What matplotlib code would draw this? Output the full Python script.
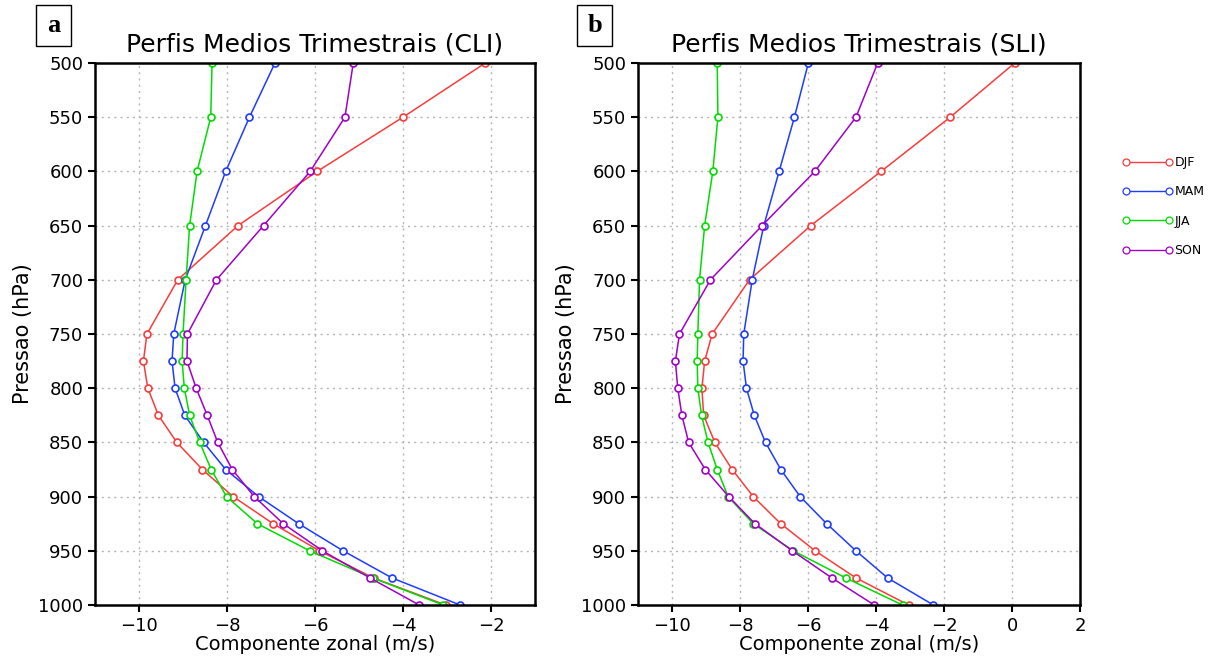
import matplotlib
matplotlib.use("Agg")
import matplotlib.pyplot as plt
from matplotlib.patches import Rectangle

# pressure levels (hPa)
levels = [500, 550, 600, 650, 700, 750, 775, 800, 825, 850, 875, 900, 925, 950, 975, 1000]
seasons = ['DJF', 'MAM', 'JJA', 'SON']
colors = ['#fa3c3c', '#1e3cff', '#00dc00', '#a000c8']

# panel a (CLI) - zonal wind component (m/s)
cli_djf = [-2.13, -4.0, -5.95, -7.75, -9.12, -9.82, -9.9, -9.8, -9.56, -9.14, -8.56, -7.86, -6.95, -5.9, -4.67, -3.03]
cli_mam = [-6.91, -7.49, -8.03, -8.49, -8.95, -9.21, -9.25, -9.18, -8.96, -8.53, -8.03, -7.28, -6.37, -5.36, -4.25, -2.70]
cli_jja = [-8.34, -8.37, -8.68, -8.85, -8.93, -9.0, -9.02, -8.97, -8.85, -8.62, -8.36, -8.01, -7.31, -6.12, -4.69, -3.08]
cli_son = [-5.13, -5.32, -6.11, -7.17, -8.24, -8.9, -8.91, -8.70, -8.45, -8.21, -7.88, -7.38, -6.72, -5.83, -4.75, -3.63]

# panel b (SLI)
sli_djf = [0.08, -1.82, -3.85, -5.92, -7.72, -8.82, -9.04, -9.12, -9.07, -8.74, -8.23, -7.61, -6.80, -5.79, -4.59, -3.04]
sli_mam = [-5.99, -6.40, -6.85, -7.30, -7.64, -7.89, -7.91, -7.81, -7.58, -7.25, -6.80, -6.23, -5.45, -4.59, -3.66, -2.31]
sli_jja = [-8.67, -8.65, -8.80, -9.04, -9.19, -9.24, -9.26, -9.24, -9.13, -8.94, -8.67, -8.35, -7.61, -6.43, -4.89, -3.22]
sli_son = [-3.95, -4.59, -5.80, -7.35, -8.87, -9.78, -9.90, -9.83, -9.71, -9.51, -9.02, -8.33, -7.56, -6.46, -5.30, -4.05]

fig = plt.figure(figsize=(12.12, 6.59), dpi=100)
ax1 = fig.add_axes([0.0784, 0.0819, 0.363, 0.8225])
ax2 = fig.add_axes([0.5264, 0.0819, 0.3647, 0.8225])


def draw_panel(ax, series, title, xlim, xticks):
    for vals, c, name in zip(series, colors, seasons):
        ax.plot(vals, levels, color=c, lw=1.1, marker='o', ms=5,
                mfc='white', mec=c, mew=1.2, label=name)
    ax.set_xlim(*xlim)
    ax.set_ylim(1000, 500)
    ax.set_yticks(range(500, 1001, 50))
    ax.set_xticks(xticks)
    ax.set_xticklabels([str(t).replace('-', '\u2212') for t in xticks])
    ax.grid(True, color='#b4b4b4', ls=(0, (1.5, 3)), lw=1)
    for s in ax.spines.values():
        s.set_linewidth(1.8)
    ax.tick_params(direction='out', length=5, width=1.5, labelsize=13)
    ax.set_title(title, fontsize=18, pad=8)
    ax.set_xlabel('Componente zonal (m/s)', fontsize=14, labelpad=0)
    ax.set_ylabel('Pressao (hPa)', fontsize=15, labelpad=4)


draw_panel(ax1, [cli_djf, cli_mam, cli_jja, cli_son],
           'Perfis Medios Trimestrais (CLI)', (-11, -1), [-10, -8, -6, -4, -2])
draw_panel(ax2, [sli_djf, sli_mam, sli_jja, sli_son],
           'Perfis Medios Trimestrais (SLI)', (-11, 2), [-10, -8, -6, -4, -2, 0, 2])

handles, labels = ax2.get_legend_handles_labels()
leg = fig.legend(handles, labels, loc='upper left', bbox_to_anchor=(0.917, 0.78),
                 frameon=False, numpoints=2, handlelength=4.0, fontsize=9,
                 labelspacing=1.3, handletextpad=0.15)
for h in leg.legend_handles:
    h.set_linewidth(1.0)
    h.set_markersize(5)
    h.set_markeredgewidth(0.9)

# panel letters in boxes
W, H = 1212.0, 659.0
for x0, letter in [(36, 'a'), (577, 'b')]:
    fig.patches.append(Rectangle((x0 / W, 1 - 46 / H), 35 / W, 41 / H,
                                 transform=fig.transFigure, fc='white',
                                 ec='black', lw=1))
    fig.text((x0 + 17.5) / W, 1 - 25 / H, letter, fontsize=19, fontweight='bold',
             family='Liberation Serif', ha='center', va='center')

fig.savefig('out.png', dpi=100)
